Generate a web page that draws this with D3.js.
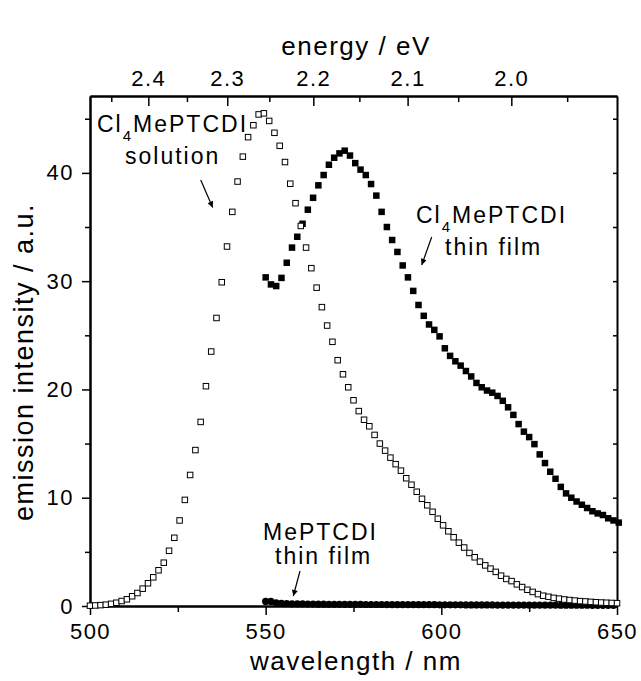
<!DOCTYPE html>
<html>
<head>
<meta charset="utf-8">
<script src="https://cdnjs.cloudflare.com/ajax/libs/d3/7.8.5/d3.min.js"></script>
<style>
body { margin: 0; background: #fff; }
text { font-family: "Liberation Sans", Arial, Helvetica, sans-serif; fill: #000; }
</style>
</head>
<body>
<div class="chart"></div>
<script>
// wavelength grid of the spectrometer (nm), 1.5 nm steps
var solutionWl = d3.range(500, 650.01, 1.5);
var filmWl = d3.range(550, 650.6, 1.5);

// Cl4MePTCDI solution (open squares)
var solutionValues = [
    0.03, 0.05, 0.08, 0.12, 0.2, 0.3, 0.46, 0.62, 0.9, 1.2,
    1.6, 2.1, 2.65, 3.3, 4.0, 5.1, 6.3, 7.9, 9.8, 12.1,
    14.4, 17.0, 20.3, 23.5, 26.6, 29.9, 33.2, 36.4, 39.2, 41.5,
    43.3, 44.4, 45.4, 45.5, 44.8, 43.7, 42.5, 41.0, 39.0, 37.2,
    35.1, 33.1, 31.2, 29.4, 27.6, 25.9, 24.4, 22.7, 21.4, 20.2,
    19.0, 18.0, 17.2, 16.6, 15.8, 15.0, 14.35, 13.7, 13.1, 12.5,
    11.8, 11.2, 10.55, 9.9, 9.3, 8.7, 8.06, 7.45, 6.9, 6.35,
    5.85, 5.4, 4.9, 4.5, 4.1, 3.75, 3.45, 3.15, 2.8, 2.5,
    2.3, 2.0, 1.75, 1.5, 1.3, 1.1, 0.95, 0.85, 0.75, 0.68,
    0.6, 0.55, 0.5, 0.45, 0.42, 0.38, 0.35, 0.32, 0.3, 0.28,
    0.26
];

// Cl4MePTCDI thin film (filled squares)
var clFilmValues = [
    30.35, 29.7, 29.55, 30.3, 31.7, 33.1, 34.1, 35.3, 36.6, 37.7,
    38.85, 39.8, 40.75, 41.4, 41.8, 42.05, 41.6, 40.9, 40.3, 39.8,
    38.97, 37.9, 36.4, 35.0, 33.8, 32.7, 31.45, 30.35, 29.1, 27.8,
    26.8, 26.0, 25.5, 24.9, 23.8, 23.1, 22.6, 22.2, 21.7, 21.2,
    20.6, 20.2, 19.9, 19.7, 19.4, 18.95, 18.35, 17.65, 16.8, 16.1,
    15.6, 14.95, 14.0, 13.2, 12.4, 11.75, 11.0, 10.4, 10.0, 9.65,
    9.35, 9.05, 8.75, 8.55, 8.4, 8.1, 7.9, 7.7
];

// MePTCDI thin film (filled circles)
var meFilmValues = [
    0.42, 0.42, 0.3, 0.25, 0.22, 0.2, 0.2, 0.19, 0.18, 0.18,
    0.17, 0.17, 0.16, 0.16, 0.16, 0.15, 0.15, 0.15, 0.15, 0.14,
    0.14, 0.14, 0.14, 0.13, 0.13, 0.13, 0.13, 0.13, 0.12, 0.12,
    0.12, 0.12, 0.12, 0.11, 0.11, 0.11, 0.11, 0.11, 0.1, 0.1,
    0.1, 0.1, 0.1, 0.1, 0.09, 0.09, 0.09, 0.09, 0.09, 0.09,
    0.08, 0.08, 0.08, 0.08, 0.08, 0.08, 0.07, 0.07, 0.07, 0.07,
    0.07, 0.07, 0.06, 0.06, 0.06, 0.06, 0.06
];

// ticks
var xMajor = [500, 550, 600, 650];
var xMinor = [525, 575, 625];
var yMajor = [0, 10, 20, 30, 40];
var yMinor = [5, 15, 25, 35, 45];
var eMajor = [2.4, 2.3, 2.2, 2.1, 2.0];
var eMinor = [2.45, 2.35, 2.25, 2.15, 2.05, 1.95];
var hc = 1239.84;

var svgWidth = 641;
var svgHeight = 681;

var plot = { left: 90, right: 617, top: 96, bottom: 606 };

var svg = d3.select(".chart")
    .append("svg")
    .attr("width", svgWidth)
    .attr("height", svgHeight);

var x = d3.scaleLinear().domain([500, 650]).range([plot.left, plot.right]);
var y = d3.scaleLinear().domain([0, 47.1]).range([plot.bottom, plot.top]);

function styleAxis(g, fontSize) {
    g.select(".domain").attr("stroke-width", 2).attr("stroke", "#000");
    g.selectAll(".tick line").attr("stroke-width", 1.5).attr("stroke", "#000");
    g.selectAll(".tick text")
        .attr("fill", "#000")
        .style("font-size", fontSize + "px")
        .style("font-family", "'Liberation Sans', Arial, sans-serif")
        .style("letter-spacing", "1.5px");
}

// bottom axis (outward ticks)
svg.append("g")
    .attr("transform", `translate(0,${plot.bottom})`)
    .call(d3.axisBottom(x).tickValues(xMinor).tickFormat("").tickSizeInner(6).tickSizeOuter(0))
    .call(g => styleAxis(g, 22));
svg.append("g")
    .attr("transform", `translate(0,${plot.bottom})`)
    .call(d3.axisBottom(x).tickValues(xMajor).tickFormat(d3.format("d")).tickSizeInner(9).tickSizeOuter(0).tickPadding(8))
    .call(g => styleAxis(g, 22));

// left axis (outward ticks)
svg.append("g")
    .attr("transform", `translate(${plot.left},0)`)
    .call(d3.axisLeft(y).tickValues(yMinor).tickFormat("").tickSizeInner(5).tickSizeOuter(0))
    .call(g => styleAxis(g, 22));
svg.append("g")
    .attr("transform", `translate(${plot.left},0)`)
    .call(d3.axisLeft(y).tickValues(yMajor).tickFormat(d3.format("d")).tickSizeInner(8).tickSizeOuter(0).tickPadding(8))
    .call(g => styleAxis(g, 22));

// right axis (inward ticks, no labels)
svg.append("g")
    .attr("transform", `translate(${plot.right},0)`)
    .call(d3.axisRight(y).tickValues(yMajor.concat(yMinor)).tickFormat("").tickSizeInner(-4).tickSizeOuter(0))
    .call(g => styleAxis(g, 22));

// top axis: photon energy, inward ticks
svg.append("g")
    .attr("transform", `translate(0,${plot.top})`)
    .call(d3.axisTop(x).tickValues(eMinor.map(e => hc / e)).tickFormat("").tickSizeInner(-6).tickSizeOuter(0))
    .call(g => styleAxis(g, 22));
svg.append("g")
    .attr("transform", `translate(0,${plot.top})`)
    .call(d3.axisTop(x).tickValues(eMajor.map(e => hc / e))
        .tickFormat(d => (hc / d).toFixed(1))
        .tickSizeInner(-10).tickSizeOuter(0).tickPadding(10))
    .call(g => styleAxis(g, 22));

// axis titles
svg.append("text")
    .attr("x", 356)
    .attr("y", 670)
    .attr("text-anchor", "middle")
    .style("font-size", "26px")
    .style("letter-spacing", "1.5px")
    .text("wavelength / nm");

svg.append("text")
    .attr("x", 356)
    .attr("y", 55)
    .attr("text-anchor", "middle")
    .style("font-size", "26px")
    .style("letter-spacing", "1.5px")
    .text("energy / eV");

svg.append("text")
    .attr("transform", "translate(33,362) rotate(-90)")
    .attr("text-anchor", "middle")
    .style("font-size", "27px")
    .style("letter-spacing", "1.5px")
    .text("emission intensity / a.u.");

// data
var solution = solutionWl.map((w, i) => ({ w: w, v: solutionValues[i] }));
var clFilm = filmWl.map((w, i) => ({ w: w, v: clFilmValues[i] }));
var meFilm = filmWl.slice(0, meFilmValues.length).map((w, i) => ({ w: w, v: meFilmValues[i] }));

var sq = 6.5;

svg.append("g").selectAll("circle")
    .data(meFilm)
    .enter()
    .append("circle")
    .attr("cx", d => x(d.w))
    .attr("cy", d => y(d.v))
    .attr("r", 3.6)
    .attr("fill", "#000");

svg.append("g").selectAll("rect")
    .data(clFilm)
    .enter()
    .append("rect")
    .attr("x", d => x(d.w) - sq / 2)
    .attr("y", d => y(d.v) - sq / 2)
    .attr("width", sq)
    .attr("height", sq)
    .attr("fill", "#000");

svg.append("g").selectAll("rect")
    .data(solution)
    .enter()
    .append("rect")
    .attr("x", d => x(d.w) - sq / 2 + 0.5)
    .attr("y", d => y(d.v) - sq / 2 + 0.5)
    .attr("width", sq - 1)
    .attr("height", sq - 1)
    .attr("fill", "#fff")
    .attr("stroke", "#000")
    .attr("stroke-width", 1);

// annotations
svg.append("defs").append("marker")
    .attr("id", "arrow")
    .attr("viewBox", "0 0 10 10")
    .attr("refX", 10)
    .attr("refY", 5)
    .attr("markerWidth", 9)
    .attr("markerHeight", 6)
    .attr("markerUnits", "userSpaceOnUse")
    .attr("orient", "auto")
    .append("path")
    .attr("d", "M0,0L10,5L0,10z")
    .attr("fill", "#000");

function label(xPos, yPos, parts) {
    var t = svg.append("text")
        .attr("x", xPos)
        .attr("y", yPos)
        .style("font-size", "23px")
        .style("letter-spacing", "2px");
    parts.forEach(p => {
        var s = t.append("tspan").text(p.text);
        if (p.sub) s.attr("dy", 9).style("font-size", "15px");
        if (p.back) s.attr("dy", -9);
    });
    return t;
}

label(97, 132, [{ text: "Cl" }, { text: "4", sub: true }, { text: "MePTCDI", back: true }]);
label(125, 164, [{ text: "solution" }]);
label(416, 223, [{ text: "Cl" }, { text: "4", sub: true }, { text: "MePTCDI", back: true }]);
label(445, 255, [{ text: "thin film" }]);
label(263, 540, [{ text: "MePTCDI" }]);
label(275, 564, [{ text: "thin film" }]);

var arrows = [
    [200.7, 180, 212.7, 207.5],
    [431.7, 237, 421.7, 265],
    [300, 571, 293.3, 596]
];
svg.append("g").selectAll("line")
    .data(arrows)
    .enter()
    .append("line")
    .attr("x1", d => d[0])
    .attr("y1", d => d[1])
    .attr("x2", d => d[2])
    .attr("y2", d => d[3])
    .attr("stroke", "#000")
    .attr("stroke-width", 1.2)
    .attr("marker-end", "url(#arrow)");
</script>
</body>
</html>
